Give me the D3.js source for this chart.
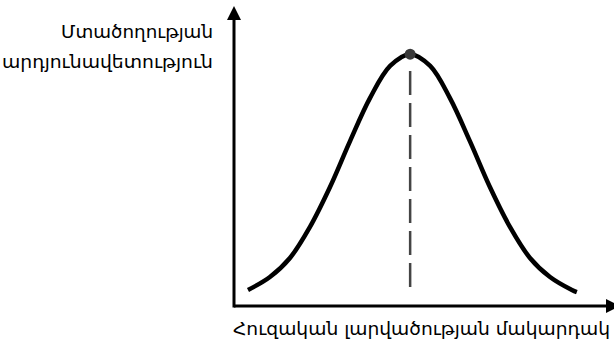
<!DOCTYPE html>
<html>
<head>
<meta charset="utf-8">
<script src="https://cdn.jsdelivr.net/npm/d3@7"></script>
<style>
  html, body { margin: 0; padding: 0; background: #fff; }
  svg { display: block; }
  text { font-family: "DejaVu Sans", sans-serif; fill: #000; }
</style>
</head>
<body>
<script>
// curve (arbitrary units 0..100 on both axes)
const curveX = [3.7, 9.5, 14.8, 20.1, 25.4, 30.7, 36.0, 41.3, 46.6, 51.9, 57.1, 62.4, 67.7, 73.0, 78.3, 83.6, 89.4, 90.7];
const curveY = [5.3, 9.6, 15.9, 26.2, 39.4, 54.6, 68.9, 79.5, 83.4, 79.5, 68.9, 54.6, 39.4, 26.2, 15.9, 9.6, 5.3, 4.6];
const peak = { x: 46.6, y: 83.4 };
const yLabel = ["Մտածողության", "արդյունավետություն"];
const yLabelWidth = [152, 211];
const xLabel = "Հուզական լարվածության մակարդակ";

const width = 614;
const height = 347;

const svg = d3.select("body").append("svg")
  .attr("width", width)
  .attr("height", height);

const x = d3.scaleLinear().domain([0, 100]).range([234, 612]);
const y = d3.scaleLinear().domain([0, 100]).range([306, 4]);

// axes
svg.append("line")
  .attr("x1", x(0)).attr("x2", x(100) - 6)
  .attr("y1", y(0)).attr("y2", y(0))
  .attr("stroke", "#000").attr("stroke-width", 3);
svg.append("line")
  .attr("x1", x(0)).attr("x2", x(0))
  .attr("y1", y(0) + 1.5).attr("y2", y(100) + 14)
  .attr("stroke", "#000").attr("stroke-width", 3);

// arrow heads
svg.append("path")
  .attr("d", `M${x(0)},6 L${x(0) - 7},20 L${x(0) + 7},20 Z`)
  .attr("fill", "#000");
svg.append("path")
  .attr("d", `M620,${y(0)} L606,${y(0) - 7} L606,${y(0) + 7} Z`)
  .attr("fill", "#000");

// dashed line under the peak
svg.append("line")
  .attr("x1", x(peak.x)).attr("x2", x(peak.x))
  .attr("y1", 71).attr("y2", 290)
  .attr("stroke", "#444").attr("stroke-width", 2.5)
  .attr("stroke-dasharray", "24,8");

// the curve
const pts = curveX.map((d, i) => [d, curveY[i]]);
const line = d3.line()
  .x((d) => x(d[0]))
  .y((d) => y(d[1]))
  .curve(d3.curveCatmullRom);

svg.append("path")
  .datum(pts)
  .attr("d", line)
  .attr("fill", "none")
  .attr("stroke", "#000")
  .attr("stroke-width", 4.5);

// peak point
svg.append("circle")
  .attr("cx", x(peak.x))
  .attr("cy", y(peak.y))
  .attr("r", 5.5)
  .attr("fill", "#3a3a3a");

// labels
svg.selectAll(".ylab")
  .data(yLabel)
  .enter()
  .append("text")
  .attr("class", "ylab")
  .attr("x", 213)
  .attr("y", (d, i) => 38 + i * 30)
  .attr("text-anchor", "end")
  .attr("font-size", 18)
  .attr("textLength", (d, i) => yLabelWidth[i])
  .attr("lengthAdjust", "spacingAndGlyphs")
  .text((d) => d);

svg.append("text")
  .attr("x", 233)
  .attr("y", 335)
  .attr("font-size", 18)
  .attr("textLength", 377)
  .attr("lengthAdjust", "spacingAndGlyphs")
  .text(xLabel);
</script>
</body>
</html>
